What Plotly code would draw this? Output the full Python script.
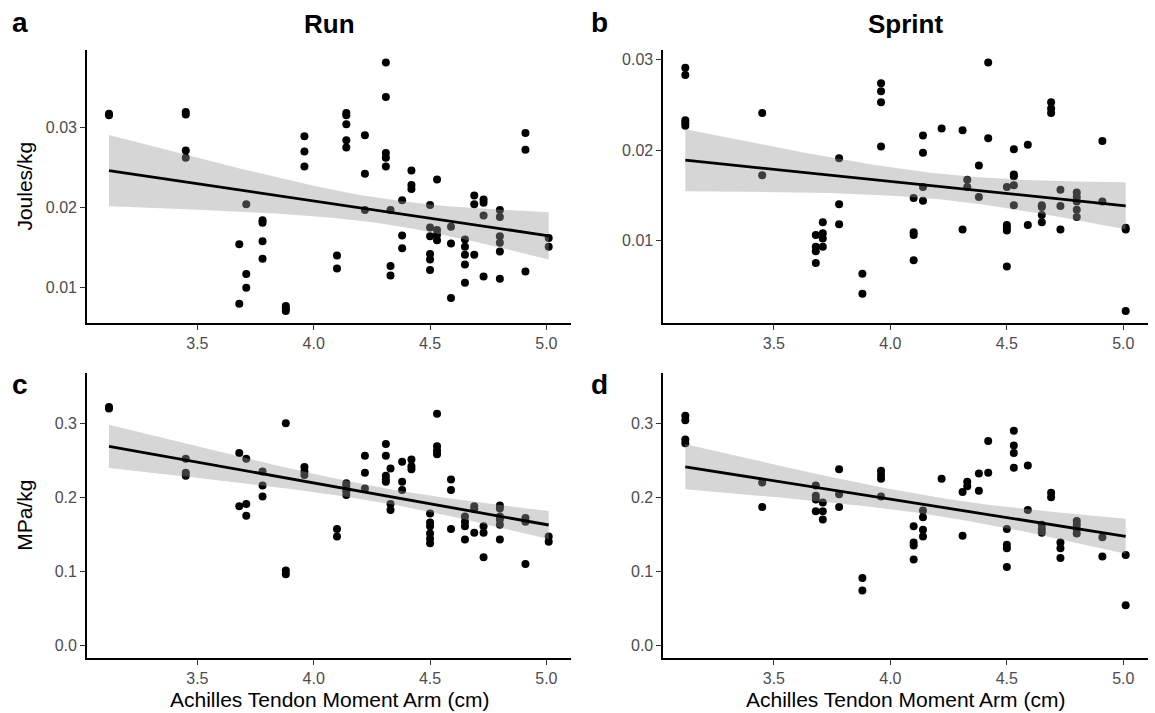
import numpy as np
import plotly.graph_objects as go

# Achilles tendon moment arm (cm) for each participant
moment_arm = [3.12, 3.45, 3.68, 3.71, 3.78, 3.88, 3.96, 4.10, 4.14, 4.22, 4.31, 4.33,
              4.38, 4.42, 4.50, 4.53, 4.59, 4.65, 4.69, 4.73, 4.80, 4.91, 5.01]

# Tendon work per body mass (J/kg), one list of trials per participant
run_work = [
    [0.0317, 0.0315], [0.0319, 0.0316, 0.0271, 0.0262], [0.0154, 0.0080],
    [0.0204, 0.0117, 0.0100], [0.0184, 0.0181, 0.0158, 0.0136], [0.0077, 0.0074, 0.0071],
    [0.0289, 0.0270, 0.0251], [0.0140, 0.0124], [0.0318, 0.0315, 0.0304, 0.0284, 0.0275],
    [0.0290, 0.0242, 0.0197], [0.0381, 0.0338, 0.0268, 0.0262, 0.0251], [0.0197, 0.0127, 0.0115],
    [0.0209, 0.0165, 0.0149], [0.0246, 0.0228, 0.0223],
    [0.0203, 0.0175, 0.0164, 0.0142, 0.0135, 0.0122], [0.0235, 0.0172, 0.0166, 0.0159],
    [0.0176, 0.0155, 0.0087], [0.0160, 0.0151, 0.0141, 0.0129, 0.0106],
    [0.0215, 0.0204, 0.0141], [0.0210, 0.0206, 0.0190, 0.0114],
    [0.0197, 0.0188, 0.0164, 0.0156, 0.0145, 0.0111], [0.0293, 0.0272, 0.0120],
    [0.0162, 0.0151],
]
sprint_work = [
    [0.0291, 0.0283, 0.0233, 0.0230, 0.0227], [0.0241, 0.0172], [0.0106, 0.0093, 0.0088, 0.0075],
    [0.0120, 0.0108, 0.0102, 0.0093], [0.0191, 0.0140, 0.0118], [0.0063, 0.0041],
    [0.0274, 0.0265, 0.0253, 0.0204], [0.0147, 0.0109, 0.0106, 0.0078],
    [0.0216, 0.0197, 0.0159, 0.0144], [0.0224], [0.0222, 0.0112], [0.0167, 0.0159],
    [0.0183, 0.0148], [0.0297, 0.0213], [0.0159, 0.0117, 0.0114, 0.0111, 0.0071],
    [0.0201, 0.0173, 0.0171, 0.0161, 0.0139], [0.0206, 0.0117],
    [0.0139, 0.0137, 0.0128, 0.0120], [0.0253, 0.0246, 0.0241], [0.0156, 0.0138, 0.0112],
    [0.0153, 0.0148, 0.0143, 0.0134, 0.0126], [0.0210, 0.0143], [0.0114, 0.0112, 0.0022],
]

# Peak tendon stress per body mass (MPa/kg)
run_stress = [
    [0.322, 0.320], [0.252, 0.233, 0.229], [0.260, 0.188], [0.252, 0.191, 0.175],
    [0.235, 0.216, 0.201], [0.300, 0.101, 0.096], [0.241, 0.235, 0.230], [0.157, 0.147],
    [0.219, 0.215, 0.208, 0.203], [0.256, 0.233, 0.212], [0.272, 0.256, 0.229, 0.224, 0.221],
    [0.239, 0.191, 0.183], [0.248, 0.221, 0.210], [0.251, 0.242, 0.238],
    [0.178, 0.166, 0.161, 0.151, 0.144, 0.138], [0.313, 0.269, 0.263, 0.258],
    [0.224, 0.210, 0.157], [0.174, 0.167, 0.161, 0.143], [0.188, 0.184, 0.152],
    [0.161, 0.152, 0.119], [0.189, 0.185, 0.174, 0.170, 0.163, 0.143],
    [0.172, 0.167, 0.110], [0.147, 0.140],
]
sprint_stress = [
    [0.310, 0.304, 0.278, 0.273], [0.220, 0.187], [0.216, 0.202, 0.197, 0.181],
    [0.193, 0.181, 0.170], [0.238, 0.204, 0.187], [0.091, 0.074], [0.236, 0.230, 0.225, 0.201],
    [0.161, 0.139, 0.135, 0.116], [0.182, 0.173, 0.156, 0.147], [0.225], [0.207, 0.148],
    [0.221, 0.215], [0.232, 0.209], [0.276, 0.233], [0.157, 0.136, 0.131, 0.106],
    [0.290, 0.270, 0.260, 0.240], [0.243, 0.183], [0.163, 0.157, 0.152], [0.206, 0.200],
    [0.139, 0.131, 0.118], [0.168, 0.163, 0.157, 0.151], [0.146, 0.120], [0.122, 0.054],
]

x_ticks = [3.5, 4.0, 4.5, 5.0]
x_tick_labels = ["3.5", "4.0", "4.5", "5.0"]
work_ticks = [0.01, 0.02, 0.03]
work_tick_labels = ["0.01", "0.02", "0.03"]
stress_ticks = [0.0, 0.1, 0.2, 0.3]
stress_tick_labels = ["0.0", "0.1", "0.2", "0.3"]
stress_limits = [0.0, 0.35]

FONT = "Liberation Sans, Arial, sans-serif"
W, H = 1155, 713


def flatten(groups):
    xs, ys = [], []
    for xv, vals in zip(moment_arm, groups):
        for v in vals:
            xs.append(xv)
            ys.append(v)
    return np.array(xs), np.array(ys)


def t975(df):
    # Cornish-Fisher approximation of the 97.5% Student t quantile
    z = 1.959963985
    return (z + (z ** 3 + z) / (4 * df)
            + (5 * z ** 5 + 16 * z ** 3 + 3 * z) / (96 * df ** 2)
            + (3 * z ** 7 + 19 * z ** 5 + 17 * z ** 3 - 15 * z) / (384 * df ** 3))


def lm_fit(x, y, n=80):
    xm = x.mean()
    sxx = ((x - xm) ** 2).sum()
    b = ((x - xm) * (y - y.mean())).sum() / sxx
    a = y.mean() - b * xm
    resid = y - (a + b * x)
    df = len(x) - 2
    s = np.sqrt((resid ** 2).sum() / df)
    grid = np.linspace(x.min(), x.max(), n)
    fit = a + b * grid
    se = s * np.sqrt(1.0 / len(x) + (grid - xm) ** 2 / sxx)
    t = t975(df)
    return grid, fit, fit - t * se, fit + t * se


def expand(lo, hi, mult=0.05):
    d = (hi - lo) * mult
    return [lo - d, hi + d]


def px_x(p):
    return p / W


def px_y(p):
    return 1 - p / H


fig = go.Figure()

panels = [
    # data, axis suffix, x pixel span, y pixel span, ticks, labels, y limits
    (run_work, "", (87, 570.7), (50, 323.3), work_ticks, work_tick_labels, None),
    (sprint_work, "2", (663.3, 1147.7), (50, 323.3), work_ticks, work_tick_labels, None),
    (run_stress, "3", (87, 570.7), (373.3, 658.3), stress_ticks, stress_tick_labels, stress_limits),
    (sprint_stress, "4", (663.3, 1147.7), (373.3, 658.3), stress_ticks, stress_tick_labels, stress_limits),
]

all_x = np.array(moment_arm)
x_range = expand(all_x.min(), all_x.max())

axis_common = dict(
    showline=True, linecolor="black", linewidth=1.7, mirror=False,
    showgrid=False, zeroline=False,
    ticks="outside", ticklen=5, tickwidth=1.4, tickcolor="#333333",
    tickfont=dict(family=FONT, size=16, color="#4D4D4D"),
)

for groups, sfx, (x0, x1), (y0, y1), yt, ytl, ylim in panels:
    x, y = flatten(groups)
    xa = "x" + sfx
    ya = "y" + sfx
    # observations
    fig.add_trace(go.Scatter(
        x=x, y=y, mode="markers", xaxis=xa, yaxis=ya,
        marker=dict(size=8, color="black", line=dict(width=0)),
        showlegend=False, hoverinfo="skip",
    ))
    grid, fit, lo, hi = lm_fit(x, y)
    # 95% confidence band of the linear fit
    fig.add_trace(go.Scatter(
        x=np.concatenate([grid, grid[::-1]]), y=np.concatenate([hi, lo[::-1]]),
        mode="lines", fill="toself", fillcolor="rgba(153,153,153,0.4)",
        line=dict(width=0), xaxis=xa, yaxis=ya, showlegend=False, hoverinfo="skip",
    ))
    fig.add_trace(go.Scatter(
        x=grid, y=fit, mode="lines", line=dict(color="black", width=2.8),
        xaxis=xa, yaxis=ya, showlegend=False, hoverinfo="skip",
    ))
    if ylim is None:
        y_range = expand(y.min(), y.max())
    else:
        y_range = expand(ylim[0], ylim[1])
    fig.update_layout(**{
        "xaxis" + sfx: dict(
            domain=[px_x(x0), px_x(x1)], range=x_range, anchor=ya,
            tickvals=x_ticks, ticktext=x_tick_labels, **axis_common),
        "yaxis" + sfx: dict(
            domain=[px_y(y1), px_y(y0)], range=y_range, anchor=xa,
            tickvals=yt, ticktext=ytl, **axis_common),
    })

annotations = []
# panel letters and column titles
for txt, xp, yp, size in [("a", 20, 23, 28), ("b", 599, 23, 28),
                          ("c", 20, 384, 28), ("d", 599, 384, 28),
                          ("Run", 329, 24, 26), ("Sprint", 905.5, 24, 26)]:
    annotations.append(dict(
        text="<b>%s</b>" % txt, x=px_x(xp), y=px_y(yp), xref="paper", yref="paper",
        xanchor="center", yanchor="middle", showarrow=False,
        font=dict(family=FONT, size=size, color="black")))
# axis titles
for txt, yp in [("Joules/kg", 186.6), ("MPa/kg", 515.8)]:
    annotations.append(dict(
        text=txt, x=px_x(25), y=px_y(yp), xref="paper", yref="paper",
        xanchor="center", yanchor="middle", textangle=-90, showarrow=False,
        font=dict(family=FONT, size=21, color="black")))
for xp in [329, 905.5]:
    annotations.append(dict(
        text="Achilles Tendon Moment Arm (cm)", x=px_x(xp), y=px_y(699.5),
        xref="paper", yref="paper", xanchor="center", yanchor="middle",
        showarrow=False, font=dict(family=FONT, size=21, color="black")))

fig.update_layout(
    width=W, height=H, margin=dict(l=0, r=0, t=0, b=0),
    paper_bgcolor="white", plot_bgcolor="white",
    font=dict(family=FONT), annotations=annotations,
)

fig.write_html("out.html")
